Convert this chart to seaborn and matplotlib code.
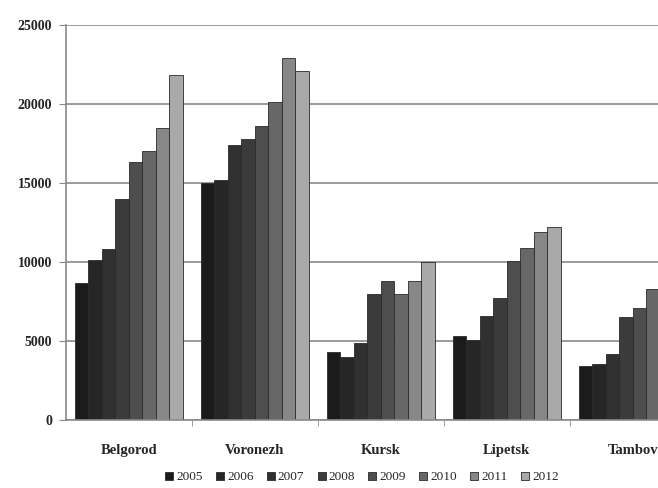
import matplotlib
matplotlib.use("Agg")
import matplotlib.pyplot as plt
import seaborn as sns
import pandas as pd
import numpy as np

regions = ["Belgorod", "Voronezh", "Kursk", "Lipetsk", "Tambov"]
years = ["2005", "2006", "2007", "2008", "2009", "2010", "2011", "2012"]
belgorod = [8700, 10100, 10800, 14000, 16300, 17000, 18500, 21800]
voronezh = [15000, 15200, 17400, 17800, 18600, 20100, 22900, 22100]
kursk = [4300, 4000, 4900, 8000, 8800, 8000, 8800, 10000]
lipetsk = [5300, 5100, 6600, 7750, 10050, 10900, 11900, 12200]
tambov = [3400, 3550, 4200, 6500, 7100, 8300, 8800, 9300]

colors = ["#1b1b1b", "#262626", "#303030", "#3b3b3b", "#4e4e4e",
          "#676767", "#878787", "#a9a9a9"]

rows = []
for reg, vals in zip(regions, [belgorod, voronezh, kursk, lipetsk, tambov]):
    for yr, v in zip(years, vals):
        rows.append({"region": reg, "year": yr, "value": v})
df = pd.DataFrame(rows)

sns.set_style("white")
plt.rcParams["font.family"] = ["Liberation Serif", "DejaVu Serif"]

fig = plt.figure(figsize=(6.58, 4.88), dpi=100)
ax = fig.add_axes([0.1, 0.139, 0.9, 0.81])

sns.barplot(data=df, x="region", y="value", hue="year", hue_order=years,
            palette=colors, width=0.86, gap=0, edgecolor="#2a2a2a",
            linewidth=0.6, ax=ax, errorbar=None)

ax.set_xlim(-0.5, 4.2)
ax.set_ylim(0, 25000)
ax.set_yticks(np.arange(0, 25001, 5000))
ax.yaxis.grid(True, color="#8a8a8a", linewidth=1.2)
ax.set_axisbelow(True)
ax.set_xlabel("")
ax.set_ylabel("")
for s in ["top", "right"]:
    ax.spines[s].set_visible(False)
ax.spines["left"].set_color("#8a8a8a")
ax.spines["bottom"].set_color("#8a8a8a")
ax.spines["left"].set_linewidth(1.2)
ax.spines["bottom"].set_linewidth(1.2)
ax.tick_params(axis="y", left=True, length=5, color="#8a8a8a", labelsize=10, pad=5)
ax.tick_params(axis="x", bottom=False, labelsize=10.5, pad=14)
ax.set_xticks(np.arange(0.5, 4.5, 1), minor=True)
ax.tick_params(axis="x", which="minor", bottom=True, length=4, color="#8a8a8a")
for lab in ax.get_xticklabels() + ax.get_yticklabels():
    lab.set_fontweight("bold")

handles, labels = ax.get_legend_handles_labels()
ax.get_legend().remove()
fig.legend(handles, labels, loc="lower center", bbox_to_anchor=(0.55, -0.015),
           ncol=8, frameon=False, fontsize=9.5, handlelength=0.6, handleheight=0.6,
           handletextpad=0.25, columnspacing=1.0)

fig.savefig("out.png", dpi=100)
